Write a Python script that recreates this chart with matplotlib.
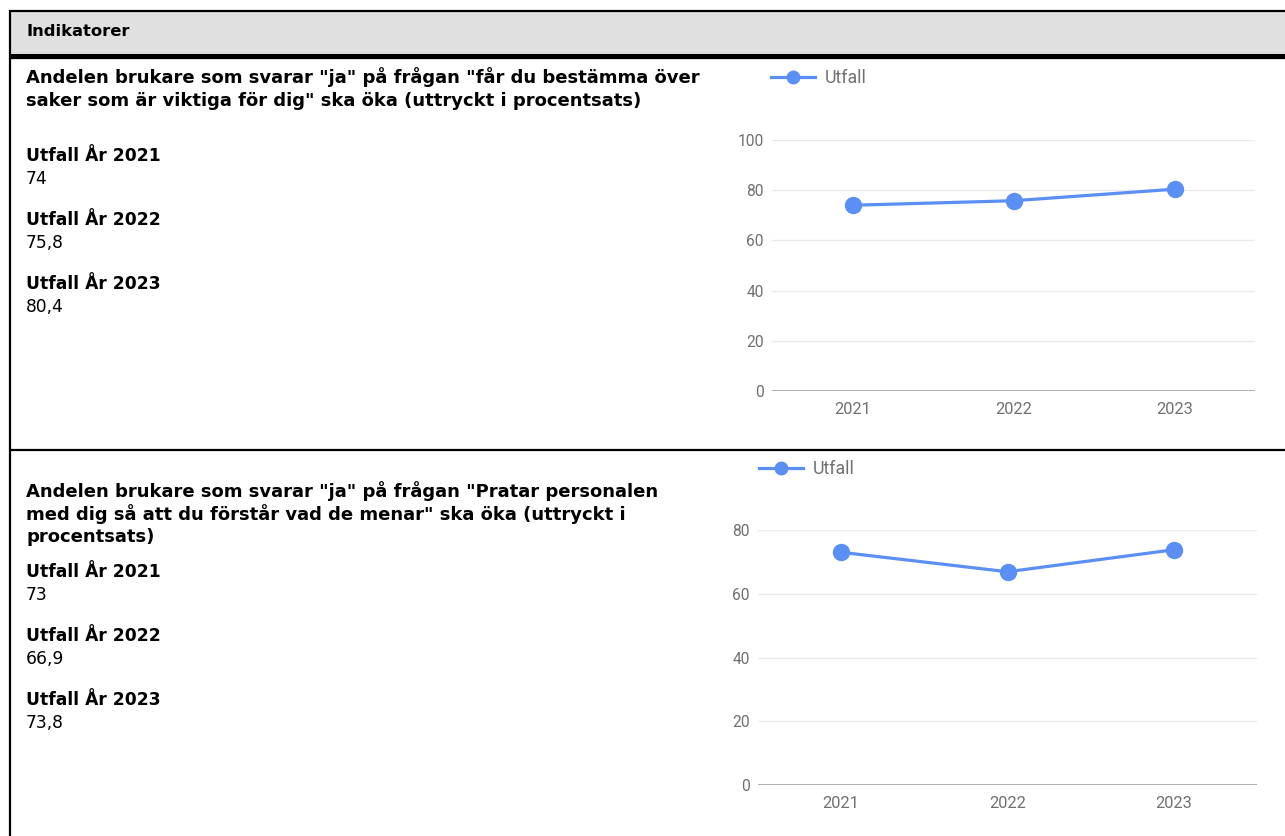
import matplotlib
matplotlib.use("Agg")
import matplotlib.pyplot as plt
from matplotlib.patches import Rectangle

# ---- data ----
header = "Indikatorer"
years = ["2021", "2022", "2023"]
title1_lines = [
    'Andelen brukare som svarar "ja" på frågan "får du bestämma över',
    'saker som är viktiga för dig" ska öka (uttryckt i procentsats)',
]
title2_lines = [
    'Andelen brukare som svarar "ja" på frågan "Pratar personalen',
    'med dig så att du förstår vad de menar" ska öka (uttryckt i',
    'procentsats)',
]
values1 = [74, 75.8, 80.4]
values2 = [73, 66.9, 73.8]
labels1 = ["74", "75,8", "80,4"]
labels2 = ["73", "66,9", "73,8"]
series_name = "Utfall"
yticks1 = [0, 20, 40, 60, 80, 100]
yticks2 = [0, 20, 40, 60, 80]

W, H = 1285, 836
fig = plt.figure(figsize=(W / 100, H / 100), dpi=100)
bg = fig.add_axes([0, 0, 1, 1])
bg.set_xlim(0, W)
bg.set_ylim(H, 0)
bg.axis("off")

# table frame
bg.add_patch(Rectangle((10, 11), W, 42, facecolor="#e0e0e0", edgecolor="none"))
bg.plot([10, W], [11, 11], color="black", lw=1.6, solid_capstyle="butt")
bg.plot([10, W], [55.5, 55.5], color="black", lw=3.8, solid_capstyle="butt")
bg.plot([10, W], [449.5, 449.5], color="black", lw=1.6, solid_capstyle="butt")
bg.plot([10, 10], [10, H], color="black", lw=1.6, solid_capstyle="butt")

TXT = ["DejaVu Sans"]
FS_T = 13.0
FS = 12.3
bg.text(26, 31.5, header, fontsize=11.8, fontweight="bold", family=TXT, va="center", ha="left")

def left_block(y_title, lines, labels, y_first):
    for k, line in enumerate(lines):
        bg.text(26, y_title + k * 23, line, fontsize=FS_T, fontweight="bold", family=TXT,
                va="center", ha="left")
    for i, (yr, lab) in enumerate(zip(years, labels)):
        y = y_first + i * 64
        bg.text(26, y, f"{series_name} År {yr}", fontsize=FS, fontweight="bold",
                family=TXT, va="center", ha="left")
        bg.text(26, y + 23, lab, fontsize=FS, family=TXT, va="center", ha="left")

left_block(77.5, title1_lines, labels1, 156)
left_block(491.5, title2_lines, labels2, 572)

BLUE = "#5b8ff4"
GRID = "#ebebeb"
BASE = "#a8a8a8"
TICK = "#707070"
CF = ["Roboto", "DejaVu Sans"]

def chart(left, right, bottom, top, values, yticks, ymax, legend_x, legend_y):
    ax = fig.add_axes([left / W, 1 - bottom / H, (right - left) / W, (bottom - top) / H])
    x = list(range(len(years)))
    ax.plot(x, values, color=BLUE, lw=2.3, marker="o", markersize=11.5,
            clip_on=False, zorder=3, label=series_name)
    ax.set_xlim(-0.5, len(years) - 0.5)
    ax.set_ylim(0, ymax)
    ax.set_yticks(yticks)
    ax.set_xticks(x)
    ax.set_xticklabels(years)
    for s in ax.spines.values():
        s.set_visible(False)
    ax.tick_params(length=0, labelcolor=TICK)
    ax.tick_params(axis="y", pad=6, labelsize=11.2)
    ax.tick_params(axis="x", pad=8, labelsize=11.8)
    for lab in ax.get_xticklabels() + ax.get_yticklabels():
        lab.set_family(CF)
    for t in yticks[1:]:
        ax.axhline(t, color=GRID, lw=1, zorder=1)
    ax.axhline(0, color=BASE, lw=1.3, zorder=2)
    leg = ax.legend(loc="center left", bbox_to_anchor=(legend_x / W, 1 - legend_y / H),
                    bbox_transform=fig.transFigure, frameon=False, borderpad=0,
                    borderaxespad=0, handlelength=2.5, handletextpad=0.5,
                    prop={"family": CF, "size": 12.8})
    for t in leg.get_texts():
        t.set_color(TICK)
    for h in leg.legend_handles:
        h.set_markersize(9)
    return ax

chart(772, 1255, 391, 140, values1, yticks1, 100, 771, 78)
chart(758, 1257, 785, 530, values2, yticks2, 80, 759, 469)

fig.savefig("out.png", dpi=100)
